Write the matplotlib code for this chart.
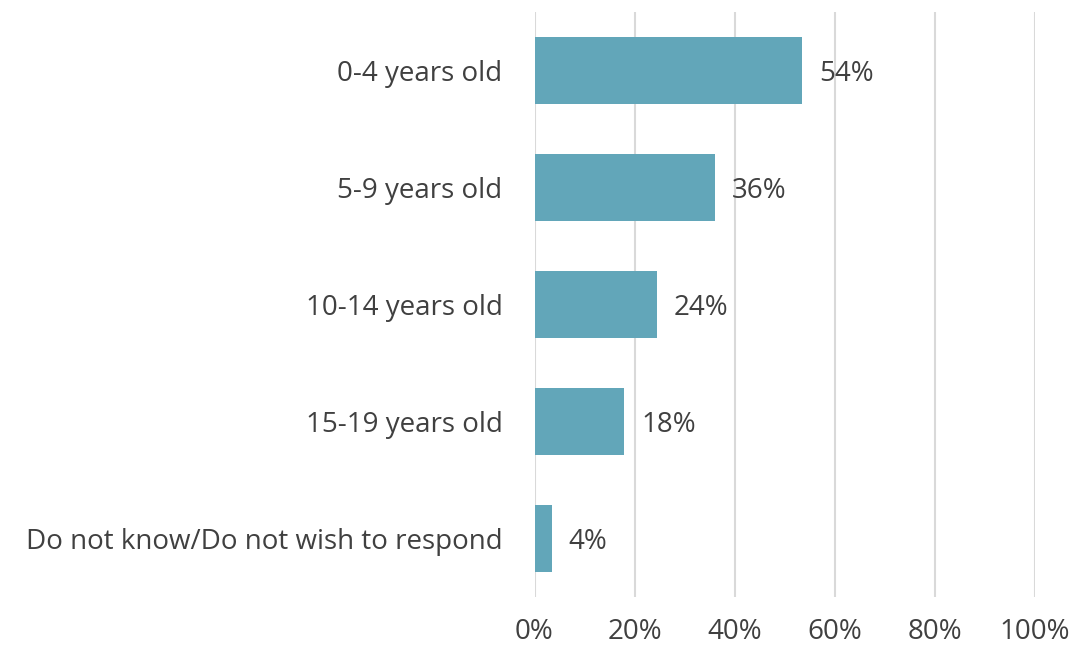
import matplotlib
matplotlib.use("Agg")
import matplotlib.pyplot as plt

categories = ["0-4 years old", "5-9 years old", "10-14 years old", "15-19 years old",
              "Do not know/Do not wish to respond"]
values = [53.5, 36.1, 24.4, 17.9, 3.4]
labels = ["54%", "36%", "24%", "18%", "4%"]
xticks = [0, 20, 40, 60, 80, 100]
xticklabels = ["0%", "20%", "40%", "60%", "80%", "100%"]

plt.rcParams['font.family'] = ['Open Sans', 'DejaVu Sans']
text_color = "#404040"
bar_color = "#62A6B9"
fs = 20

fig = plt.figure(figsize=(10.74, 6.49), dpi=100)
ax = fig.add_axes([534.5/1074, 1-597/649, 500/1074, 585/649])

y = list(range(len(categories)))
ax.barh(y, values, height=0.575, color=bar_color, zorder=3)
for yi, v, lab in zip(y, values, labels):
    ax.text(v + 3.4, yi + 0.03, lab, va="center", ha="left", fontsize=fs, color=text_color)

ax.set_xlim(0, 100)
ax.set_ylim(len(categories) - 0.5, -0.5)
ax.set_yticks(y)
ax.set_yticklabels(categories, fontsize=fs, color=text_color)
ax.set_xticks(xticks)
ax.set_xticklabels(xticklabels, fontsize=fs, color=text_color)
ax.tick_params(axis="both", length=0)
ax.tick_params(axis="y", pad=23)
ax.tick_params(axis="x", pad=15)
ax.grid(axis="x", color="#D9D9D9", linewidth=1.5, zorder=0)
for s in ax.spines.values():
    s.set_visible(False)

fig.savefig("out.png", dpi=100)
